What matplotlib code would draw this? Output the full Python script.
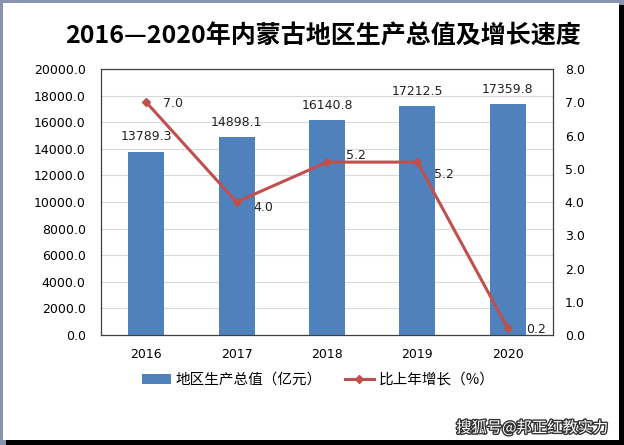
import matplotlib.pyplot as plt
import matplotlib.patheffects as pe
from matplotlib.patches import Rectangle
from matplotlib.lines import Line2D

plt.rcParams['font.family'] = ['DejaVu Sans', 'Noto Sans CJK SC']

years = ['2016', '2017', '2018', '2019', '2020']
gdp = [13789.3, 14898.1, 16140.8, 17212.5, 17359.8]
growth = [7.0, 4.0, 5.2, 5.2, 0.2]

bar_color = '#4f81bd'
line_color = '#c0504d'

fig = plt.figure(figsize=(6.24, 4.45), dpi=100)
fig.patch.set_facecolor('#8a93ad')

# white panel with dark shadow at right / bottom
W, H = 624, 445
for r in [Rectangle((3 / W, 5 / H), 616 / W, 437 / H, facecolor='white'),
          Rectangle((619 / W, 0), 5 / W, 440 / H, facecolor='black'),
          Rectangle((6 / W, 0), 618 / W, 5 / H, facecolor='black')]:
    r.set_transform(fig.transFigure)
    r.set_edgecolor('none')
    r.set_zorder(-10)
    fig.add_artist(r)

ax = fig.add_axes([101 / W, 110 / H, 452 / W, 266 / H])
ax.set_facecolor('white')
x = range(len(years))
ax.bar(x, gdp, width=0.4, color=bar_color, zorder=2)
ax.set_xlim(-0.5, 4.5)
ax.set_ylim(0, 20000)
ax.set_yticks(range(0, 20001, 2000))
ax.set_yticklabels([f'{v:.1f}' for v in range(0, 20001, 2000)], fontsize=9)
ax.set_xticks(list(x))
ax.set_xticklabels(years, fontsize=9)
ax.tick_params(length=0, pad=11)
ax.tick_params(axis='x', pad=9)
ax.grid(axis='y', color='#d9d9d9', linewidth=0.8, zorder=0)
for s in ax.spines.values():
    s.set_color('#404040')
    s.set_linewidth(0.9)

for i, v in enumerate(gdp):
    ax.annotate(f'{v:.1f}', (i, v), xytext=(0, 6), textcoords='offset points',
                ha='center', va='bottom', fontsize=9, color='#222222')

ax2 = ax.twinx()
ax2.plot(x, growth, color=line_color, linewidth=2.2, marker='D', markersize=4.5, zorder=3)
ax2.set_ylim(0, 8)
ax2.set_yticks(range(0, 9))
ax2.set_yticklabels([f'{v:.1f}' for v in range(0, 9)], fontsize=9)
ax2.tick_params(length=0, pad=8.5)
for s in ax2.spines.values():
    s.set_visible(False)

offsets = [(12, -1), (12, -4), (14, 5), (12, -9), (13, -1)]
for i, v in enumerate(growth):
    ax2.annotate(f'{v:.1f}', (i, v), xytext=offsets[i], textcoords='offset points',
                 ha='left', va='center', fontsize=9, color='#222222')

fig.text(323 / W, 1 - 36 / H, '2016—2020年内蒙古地区生产总值及增长速度',
         ha='center', va='center', fontsize=18, fontweight='heavy',
         family='Noto Sans CJK SC')

handles = [Rectangle((0, 0), 1, 1, facecolor=bar_color),
           Line2D([0], [0], color=line_color, linewidth=2.2, marker='D', markersize=4.5)]
fig.legend(handles, ['地区生产总值（亿元）', '比上年增长（%）'], loc='center',
           bbox_to_anchor=(318 / W, 1 - 380 / H), ncol=2, frameon=False,
           handlelength=2.0, handletextpad=0.3, columnspacing=1.6,
           prop={'family': ['Noto Sans CJK SC'], 'size': 10.5})

fig.text(608 / W, 1 - 428 / H, '搜狐号@邦正红教实力', ha='right', va='center',
         fontsize=11, color='white', family='Noto Sans CJK SC',
         path_effects=[pe.withStroke(linewidth=2, foreground='#333333')])

fig.savefig('out.png', dpi=100, facecolor=fig.get_facecolor())
